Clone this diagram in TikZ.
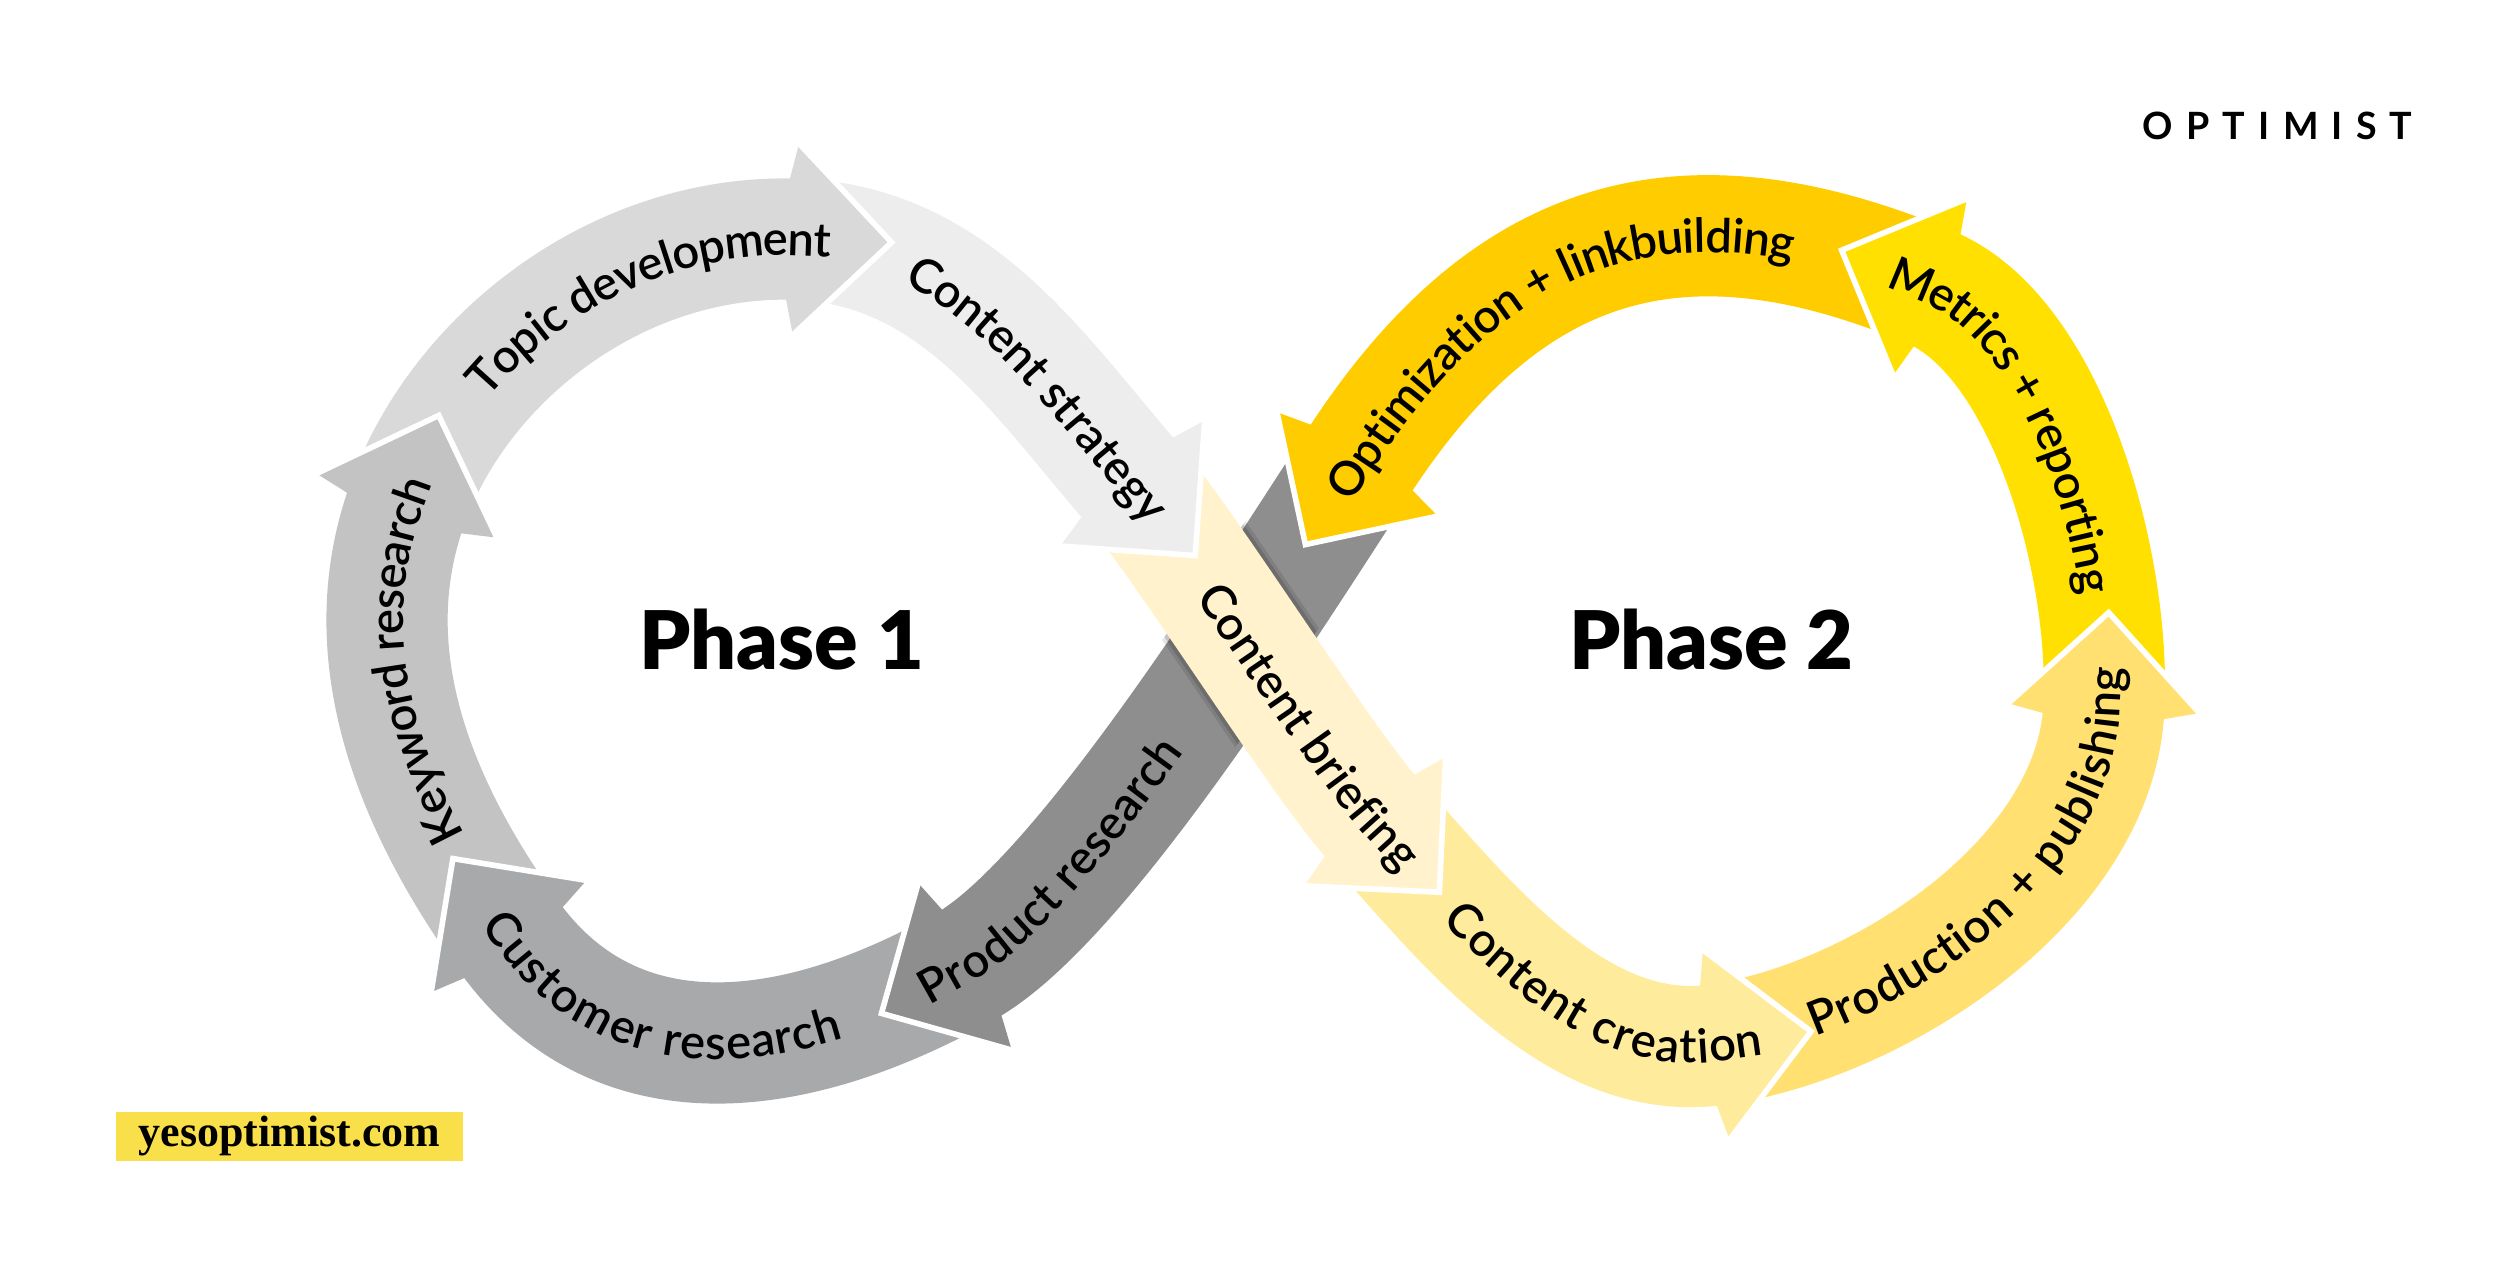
\documentclass[tikz,border=0pt]{standalone}
\usepackage{fontspec}
\setmainfont{Lato}
\newfontfamily\lblfont{Lato Semibold}
\newfontfamily\heavyfont{Lato Black}
\newfontfamily\sitefont{Liberation Serif}
\usetikzlibrary{calc,decorations.text}
\definecolor{ckey}{HTML}{C3C3C3}
\definecolor{ctopic}{HTML}{D9D9D9}
\definecolor{cstrat}{HTML}{EDEDED}
\definecolor{ccust}{HTML}{A8A9AB}
\definecolor{cprod}{HTML}{8E8E8E}
\definecolor{cbrief}{HTML}{FFF2CC}
\definecolor{ccreat}{HTML}{FFEB9C}
\definecolor{cpub}{HTML}{FFE070}
\definecolor{cmet}{HTML}{FFE000}
\definecolor{copt}{HTML}{FFCC00}
\definecolor{csite}{HTML}{F9E04B}
\newcommand\headat[3]{%
  \coordinate (hq) at ($(#1)!0.08cm!(#2)$);
  \fill[#3] ($(#1)!0.957cm!90:(#2)$) -- ($(#1)!-0.957cm!(#2)$) -- ($(#1)!0.957cm!-90:(#2)$)
     -- ($(hq)!0.6cm!-90:(#2)$) -- ($(hq)!0.6cm!90:(#2)$) -- cycle;
  \draw[gap] ($(#1)!0.957cm!90:(#2)$) -- ($(#1)!-0.957cm!(#2)$) -- ($(#1)!0.957cm!-90:(#2)$);
}
\newcommand\lblsize{\lblfont\fontsize{13.4}{14}\selectfont}
\begin{document}
\begin{tikzpicture}[x=0.01595cm, y=-0.01595cm,
  band/.style={line width=1.212cm},
  gap/.style={draw=white, line width=1.6pt, line join=miter},
  lblR/.style={decorate, decoration={text along path, raise=-4.7pt,
     text align={right, right indent=#1}}},
  lblL/.style={decorate, decoration={text along path, raise=-4.7pt,
     text align={left, left indent=#1}}}]
\fill[white] (0,0) rectangle (1568,793);
\useasboundingbox (0,0) rectangle (1568,793);
% head base points
\coordinate (Kb) at (255,317);
\coordinate (Tb) at (499,150);
\coordinate (Sb) at (710,303);
\coordinate (Bb) at (862,515);
\coordinate (Cb) at (1076,655);
\coordinate (Pb) at (1319,444);
\coordinate (Mb) at (1210,180);
\coordinate (Ob) at (851,291);
\coordinate (Rb) at (605,606);
\coordinate (Ub) at (319,587);
% control points
\coordinate (k1) at (260.6,505.9); \coordinate (k2) at (221.5,411.2);
\coordinate (t1) at (288.5,222.8); \coordinate (t2) at (389,146.4);
\coordinate (s1) at (599,153.3);   \coordinate (s2) at (651,235.1);
\coordinate (b1) at (742.8,340.7); \coordinate (b2) at (828.4,478.1);
\coordinate (c1) at (915.8,574.1); \coordinate (c2) at (986.9,667.5);
\coordinate (p1) at (1175,641.1);  \coordinate (p2) at (1313.4,553.8);
\coordinate (m1) at (1323.6,354.2);\coordinate (m2) at (1283.8,210.8);
\coordinate (o1) at (1062.3,118.4);\coordinate (o2) at (948.7,139.8);
\coordinate (r1) at (785.8,391.8); \coordinate (r2) at (674.8,566.9);
\coordinate (u1) at (491.6,669.6); \coordinate (u2) at (383.2,676.2);
% text extension points
\coordinate (Ke) at (270.1,274.6);
\coordinate (Te) at (544,151.5);
\coordinate (Se) at (739.5,336.9);
\coordinate (Be) at (892.3,548.3);
\coordinate (Ce) at (1120.6,648.7);
\coordinate (Pe) at (1321.3,399.1);
\coordinate (Me) at (1168.5,162.7);
\coordinate (Oe) at (826.6,328.8);
\coordinate (Re) at (565.8,628);
\coordinate (Ue) at (292.7,550.5);
% bands
\draw[band, draw=ckey]   (Ub) .. controls (k1) and (k2) .. (Kb);
\draw[band, draw=ctopic] (Kb) .. controls (t1) and (t2) .. (Tb);
\draw[band, draw=cstrat] (Tb) .. controls (s1) and (s2) .. (Sb);
\draw[band, draw=ccust]  (Rb) .. controls (u1) and (u2) .. (Ub);
\draw[band, draw=cprod]  (Ob) .. controls (r1) and (r2) .. (Rb);
% soft shadow of the briefing band on the product research band
\begin{scope}
  \clip (849,362) -- (787,318) -- (689,458) -- (751,502) -- cycle;
  \draw[line width=1.36cm, draw=black, opacity=0.10] (Sb) .. controls (b1) and (b2) .. (Bb);
  \draw[line width=1.29cm, draw=black, opacity=0.14] (Sb) .. controls (b1) and (b2) .. (Bb);
\end{scope}
\draw[band, draw=cbrief] (Sb) .. controls (b1) and (b2) .. (Bb);
\draw[band, draw=ccreat] (Bb) .. controls (c1) and (c2) .. (Cb);
\draw[band, draw=cpub]   (Cb) .. controls (p1) and (p2) .. (Pb);
\draw[band, draw=cmet]   (Pb) .. controls (m1) and (m2) .. (Mb);
\draw[band, draw=copt]   (Mb) .. controls (o1) and (o2) .. (Ob);
% heads
\headat{Kb}{k2}{ckey}
\headat{Tb}{t2}{ctopic}
\headat{Sb}{s2}{cstrat}
\headat{Bb}{b2}{cbrief}
\headat{Cb}{c2}{ccreat}
\headat{Pb}{p2}{cpub}
\headat{Mb}{m2}{cmet}
\headat{Ob}{o2}{copt}
\headat{Rb}{r2}{cprod}
\headat{Ub}{u2}{ccust}
% labels
\path[lblR=0.42cm, decoration={text={|\lblsize|Keyword research}}]
  (Ub) .. controls (k1) and (k2) .. (Kb) -- (Ke);
\path[lblR=0.36cm, decoration={text={|\lblsize|Topic development}}]
  (Kb) .. controls (t1) and (t2) .. (Tb) -- (Te);
\path[lblR=0.29cm, decoration={text={|\lblsize|Content strategy}}]
  (Tb) .. controls (s1) and (s2) .. (Sb) -- (Se);
\path[lblR=0.16cm, decoration={text={|\lblsize|Content briefing}}]
  (Sb) .. controls (b1) and (b2) .. (Bb) -- (Be);
\path[lblR=0.26cm, decoration={text={|\lblsize|Content creation}}]
  (Bb) .. controls (c1) and (c2) .. (Cb) -- (Ce);
\path[lblR=0.30cm, decoration={text={|\lblsize|Production + publishing}}]
  (Cb) .. controls (p1) and (p2) .. (Pb) -- (Pe);
\path[lblL=0.30cm, decoration={text={|\lblsize|Metrics + reporting}}]
  (Me) -- (Mb) .. controls (m2) and (m1) .. (Pb);
\path[lblL=0.35cm, decoration={text={|\lblsize|Optimization + linkbuilding}}]
  (Oe) -- (Ob) .. controls (o2) and (o1) .. (Mb);
\path[lblL=0.22cm, decoration={text={|\lblsize|Product research}}]
  (Re) -- (Rb) .. controls (r2) and (r1) .. (Ob);
\path[lblL=0.46cm, decoration={text={|\lblsize|Customer research}}]
  (Ue) -- (Ub) .. controls (u2) and (u1) .. (Rb);
% phase titles
\node (ph1) at (490,401) {\heavyfont\fontsize{23}{23}\selectfont Phase 1};
\node (ph2) at (1073,401) {\heavyfont\fontsize{23}{23}\selectfont Phase 2};
% logo
\node (logo) at (1428,79) {\fontsize{10.7}{11}\selectfont\bfseries\addfontfeatures{LetterSpace=35}OPTIMIST};
\node (site) [fill=csite, minimum width=3.46cm, minimum height=0.494cm, inner sep=0pt]
  at (181.5,712.5) {\sitefont\bfseries\fontsize{12.5}{13}\selectfont yesoptimist.com};
\end{tikzpicture}
\end{document}
